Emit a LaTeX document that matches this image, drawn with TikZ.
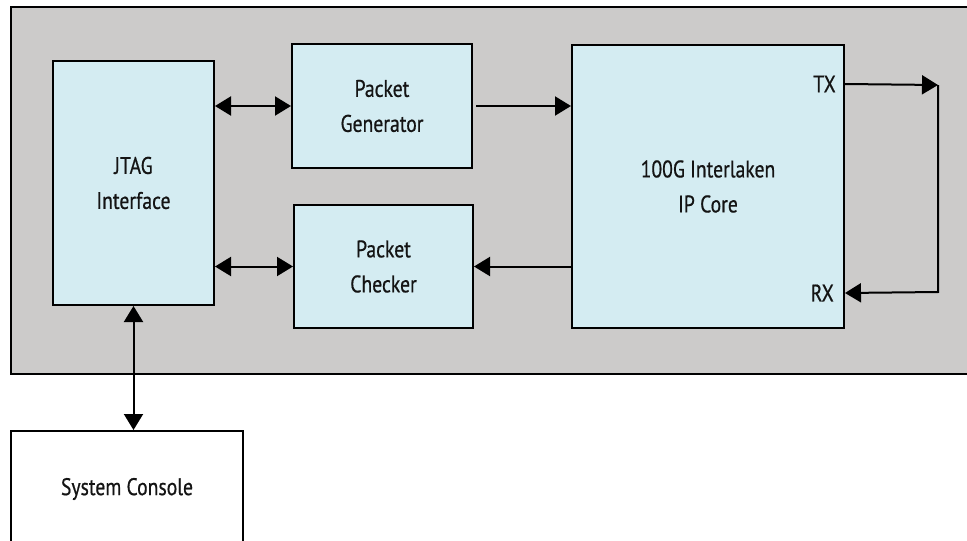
\documentclass[tikz,border=0pt]{standalone}
\usepackage{fontspec}
\setmainfont[FakeStretch=0.82,FakeBold=0.6]{PT Sans}
\usetikzlibrary{arrows.meta,calc}
\definecolor{bggray}{RGB}{204,203,202}
\definecolor{boxblue}{RGB}{212,236,242}
\definecolor{txtcol}{RGB}{20,20,20}
\begin{document}
\begin{tikzpicture}[x=1pt,y=-1pt,
  every node/.style={font=\fontsize{24}{35}\selectfont, align=center, inner sep=0pt, text=txtcol},
  block/.style={draw=black, line width=2pt, fill=boxblue, rectangle},
  conn/.style={line width=2pt, -{Triangle[length=16pt,width=19pt]}},
  biconn/.style={line width=2pt, {Triangle[length=16pt,width=19pt]}-{Triangle[length=16pt,width=19pt]}},
  portlabel/.style={anchor=east}]
\useasboundingbox (0,0) rectangle (967,541);
\fill[white] (0,0) rectangle (967,541);
\draw[line width=2pt, fill=bggray] (11,7) rectangle (972,374);
\node[block, minimum width=161pt, minimum height=244pt] (jtag) at (133.5,183) {JTAG\\Interface};
\node[block, minimum width=180pt, minimum height=124pt] (gen) at (382,106) {Packet\\Generator};
\node[block, minimum width=179pt, minimum height=123pt] (chk) at (383.5,266.5) {Packet\\Checker};
\node[block, minimum width=272pt, minimum height=283pt] (ip) at (708,186.5) {100G Interlaken\\IP Core};
\node[draw=black, line width=2pt, fill=white, rectangle, minimum width=232pt, minimum height=116pt] (con) at (127,489) {System Console};
\coordinate (txp) at ($(ip.north east)+(0,40)$);
\coordinate (rxp) at ($(ip.south east)+(0,-36)$);
\coordinate (loopA) at (938,85);
\coordinate (loopB) at (938,292);
\node[portlabel] (txl) at ($(txp)+(-9,0)$) {TX};
\node[portlabel] (rxl) at ($(rxp)+(-11,0)$) {RX};
\draw[biconn] (jtag.east |- gen.west) -- (gen.west);
\draw[biconn] (jtag.east |- chk.west) -- (chk.west);
\draw[conn] ($(gen.east)+(3,0)$) -- (ip.west |- gen.east);
\draw[conn] (ip.west |- chk.east) -- (chk.east);
\draw[conn] (txp) -- (loopA);
\draw[conn] (loopA) -- (loopB) -- (rxp);
\draw[biconn] (jtag.south) -- (jtag.south |- con.north);
\end{tikzpicture}
\end{document}
